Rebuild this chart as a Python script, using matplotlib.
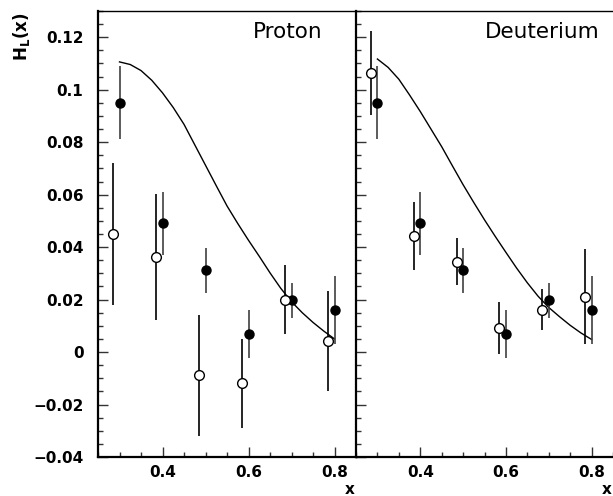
import matplotlib
matplotlib.use("Agg")
from matplotlib import pyplot as plt
from matplotlib.ticker import MultipleLocator, FuncFormatter

# reference points (filled), same in both panels
x_ref = [0.3, 0.4, 0.5, 0.6, 0.7, 0.8]
h_ref = [0.0951, 0.0491, 0.0311, 0.0069, 0.0197, 0.0161]
e_ref = [0.0139, 0.0120, 0.0086, 0.0093, 0.0068, 0.0129]

# proton (open)
x_p = [0.285, 0.385, 0.485, 0.585, 0.685, 0.785]
h_p = [0.0451, 0.0362, -0.0089, -0.0119, 0.0200, 0.0042]
e_p = [0.0270, 0.0240, 0.0230, 0.0170, 0.0130, 0.0190]

# deuterium (open)
x_d = [0.285, 0.385, 0.485, 0.585, 0.685, 0.785]
h_d = [0.1062, 0.0443, 0.0344, 0.0091, 0.0161, 0.0211]
e_d = [0.0160, 0.0130, 0.0089, 0.0100, 0.0078, 0.0180]

# model curves
x_curve = [0.300, 0.325, 0.350, 0.375, 0.400, 0.425, 0.450, 0.475, 0.500, 0.525,
           0.550, 0.575, 0.600, 0.625, 0.650, 0.675, 0.700, 0.725, 0.750, 0.775, 0.800]
curve_p = [0.1106, 0.1096, 0.1073, 0.1036, 0.0988, 0.0932, 0.0868, 0.0790, 0.0712, 0.0634,
           0.0557, 0.0490, 0.0426, 0.0365, 0.0302, 0.0243, 0.0192, 0.0150, 0.0113, 0.0080, 0.0050]
curve_d = [0.1117, 0.1085, 0.1040, 0.0980, 0.0917, 0.0850, 0.0783, 0.0710, 0.0638, 0.0570,
           0.0504, 0.0441, 0.0380, 0.0320, 0.0264, 0.0213, 0.0170, 0.0135, 0.0102, 0.0073, 0.0048]

fig = plt.figure(figsize=(6.13, 4.96), dpi=100)
ax1 = fig.add_axes([98/613, 39/496, 258/613, 446/496])
ax2 = fig.add_axes([356/613, 39/496, 257/613, 446/496], sharey=ax1)


def fmt(v, pos):
    s = "%g" % round(v, 4)
    return s.replace("-", "\u2212")


def draw_panel(ax, xo, ho, eo, curve, name, tx):
    ax.plot(x_curve, curve, color="black", lw=1.0, zorder=2)
    ax.errorbar(x_ref, h_ref, yerr=e_ref, fmt="o", color="black", ecolor="#404040",
                elinewidth=1.2, ms=6.5, capsize=0, zorder=3)
    ax.errorbar(xo, ho, yerr=eo, fmt="o", mfc="white", mec="black", mew=1.0,
                ecolor="black", elinewidth=1.2, ms=7, capsize=0, zorder=4)
    ax.set_xlim(0.25, 0.85)
    ax.set_ylim(-0.04, 0.13)
    ax.xaxis.set_major_locator(MultipleLocator(0.2))
    ax.xaxis.set_minor_locator(MultipleLocator(0.05))
    ax.yaxis.set_major_locator(MultipleLocator(0.02))
    ax.yaxis.set_minor_locator(MultipleLocator(0.005))
    ax.tick_params(which="both", direction="in", width=1.0, color="#333333",
                   top=False, right=False)
    ax.tick_params(which="major", length=7.5)
    ax.tick_params(which="minor", length=3.8)
    ax.tick_params(axis="x", pad=6)
    ax.tick_params(axis="y", pad=10.5)
    ax.xaxis.set_major_formatter(FuncFormatter(fmt))
    ax.yaxis.set_major_formatter(FuncFormatter(fmt))
    ax.spines["left"].set_linewidth(1.6)
    ax.spines["bottom"].set_linewidth(1.6)
    ax.spines["top"].set_linewidth(1.0)
    ax.spines["right"].set_linewidth(1.0)
    ax.text(tx, 0.94, name, transform=ax.transAxes, ha="right", va="baseline",
            fontsize=15.5)


draw_panel(ax1, x_p, h_p, e_p, curve_p, "Proton", 0.872)
draw_panel(ax2, x_d, h_d, e_d, curve_d, "Deuterium", 0.947)
plt.setp(ax2.get_yticklabels(), visible=False)
ax2.spines["right"].set_visible(False)

for a in (ax1, ax2):
    for lab in a.get_xticklabels() + a.get_yticklabels():
        lab.set_fontweight("bold")
        lab.set_fontsize(11)

fig.text(350/613, 1 - 489/496, "x", ha="center", va="center", fontsize=11, fontweight="bold")
fig.text(607/613, 1 - 489/496, "x", ha="center", va="center", fontsize=11, fontweight="bold")
fig.text(22/613, 1 - 13/496, r"H$_\mathbf{L}$(x)", rotation=90, ha="center", va="top",
         fontsize=12, fontweight="bold")

plt.savefig("out.png", dpi=100)
plt.close()
